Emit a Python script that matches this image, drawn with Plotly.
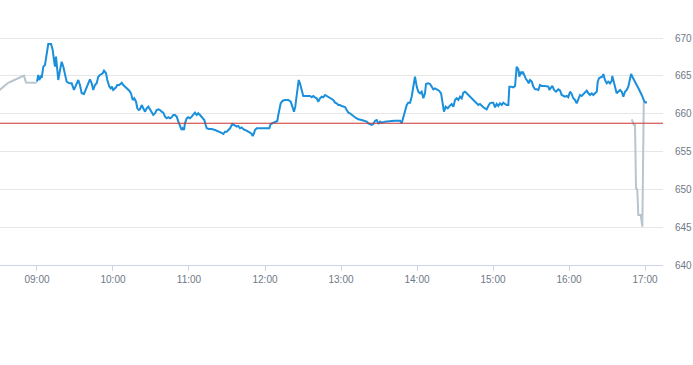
import pandas as pd
import plotly.graph_objects as go

# ---- data (minutes after 09:00, price) ----
pre_minutes = [-31, -26.6, -22.7, -18.7, -14.8, -10.3, -8.7, -0.2]
pre_values = [662.95, 663.6, 664.1, 664.4, 664.7, 665.05, 664.15, 664.1]

blue_minutes = [
    0, 1.0, 1.8, 2.9, 3.7, 5.0, 6.3, 7.7, 8.9, 11.1, 12.4, 13.4, 14.2, 15.0, 16.0, 16.8, 18.2, 19.5, 20.8, 22.1,
    23.4, 25.5, 27.4, 29.2, 30.6, 32.6, 33.9, 35.3, 37.1, 38.7, 40.5, 41.8, 43.2, 44.4, 45.8, 47.1, 48.4, 49.7, 51.9, 52.9,
    54.5, 55.5, 57.1, 58.2, 59.2, 60.2, 62.4, 63.4, 65.0, 66.9, 68.1, 69.5, 71.3, 72.9, 74.2, 75.6, 76.8, 78.2, 79.2, 80.3,
    81.3, 82.7, 83.9, 85.3, 86.6, 87.9, 89.2, 90.6, 91.8, 93.2, 94.5, 95.8, 97.1, 98.4, 99.7, 101.1, 102.4, 103.7, 105.0, 106.3,
    107.6, 108.9, 110.3, 111.6, 112.9, 114.2, 115.0, 116.1, 116.8, 118.2, 119.4, 120.8, 122.1, 123.4, 124.7, 126.1, 127.3, 128.7, 130.0, 131.3,
    132.1, 133.2, 134.0, 135.8, 137.9, 140.5, 143.1, 145.3, 147.1, 148.4, 149.8, 151.0, 152.4, 154.2, 155.8, 157.7, 158.9, 160.3, 161.6, 162.9,
    164.2, 165.5, 166.8, 168.2, 169.5, 170.3, 171.3, 172.1, 173.5, 176.1, 178.7, 181.3, 183.4, 184.5, 186.6, 187.9, 189.7, 190.5, 191.3, 192.4,
    194.0, 195.8, 198.4, 200.3, 201.6, 202.9, 203.9, 205.0, 205.8, 206.6, 207.6, 209.0, 210.2, 212.9, 215.5, 216.9, 218.1, 219.5, 220.8, 222.1,
    223.4, 224.8, 226.0, 227.4, 228.7, 230.0, 231.3, 232.7, 233.9, 235.3, 236.6, 237.9, 239.2, 240.6, 241.8, 243.2, 244.5, 245.8, 247.0, 248.4,
    249.7, 251.0, 252.4, 253.7, 256.3, 258.9, 260.3, 261.6, 262.9, 264.2, 265.5, 266.9, 268.2, 269.5, 270.8, 272.1, 274.7, 277.3, 280.0, 282.6,
    285.2, 286.6, 287.9, 289.2, 290.5, 291.9, 293.1, 294.5, 295.8, 297.1, 298.4, 299.8, 301.0, 302.4, 303.7, 305.0, 306.3, 307.1, 308.9, 310.3,
    311.6, 312.9, 314.2, 315.6, 317.4, 319.0, 320.0, 321.3, 322.7, 324.3, 326.1, 327.4, 328.7, 330.0, 331.3, 332.6, 334.0, 335.3, 336.6, 337.9,
    339.2, 340.5, 341.8, 343.2, 344.5, 345.8, 347.1, 348.4, 349.7, 351.1, 352.4, 353.7, 355.0, 356.3, 357.6, 359.0, 360.2, 361.6, 362.9, 364.2,
    365.5, 366.9, 368.1, 369.5, 370.8, 372.1, 372.9, 374.0, 376.0, 377.4, 378.7, 380.0, 380.8, 381.9, 382.7, 383.5, 384.5, 386.1, 387.1, 388.2,
    389.2, 390.6, 391.8, 393.2, 394.5, 395.8, 397.1, 398.4, 401.0, 402.4, 403.7, 404.5, 405.6, 406.8, 408.2, 409.7, 411.6, 412.9, 414.2, 415.5,
    416.8, 418.2, 419.4, 420.8, 422.1, 423.4, 424.7, 426.1, 427.3, 428.7, 430.0, 431.3, 432.6, 434.0, 435.3, 436.6, 437.9, 439.2, 440.5, 441.9,
    442.7, 443.7, 445.1, 446.3, 447.1, 448.4, 449.8, 451.0, 452.4, 453.7, 454.2, 454.9, 456.3, 457.6, 458.9, 460.3, 461.6, 462.9, 464.2, 465.6,
    466.8, 468.2, 469.0, 470.0, 472.2, 474.8, 477.4, 479.5, 481.4,
]
blue_values = [
    664.25, 665.13, 664.47, 664.9, 664.74, 666.23, 666.46, 668.21, 669.23, 669.23, 668.44, 667.12, 666.23, 667.55, 666.02, 664.47, 665.79, 666.89, 666.23, 665.36,
    664.25, 664.03, 664.03, 663.15, 663.81, 664.47, 663.81, 662.71, 662.62, 663.37, 664.03, 664.56, 664.03, 663.15, 663.81, 664.03, 664.9, 665.13, 665.36, 665.7,
    665.36, 664.47, 663.59, 663.37, 663.59, 663.15, 663.5, 663.81, 663.81, 664.11, 663.81, 663.59, 663.37, 663.06, 662.71, 661.83, 662.05, 661.6, 660.73, 660.5,
    660.6, 661.16, 660.73, 660.28, 660.73, 660.94, 660.6, 660.15, 659.84, 660.07, 660.5, 660.6, 660.5, 660.28, 660.15, 659.62, 659.4, 659.54, 659.4, 659.54,
    659.84, 659.84, 659.62, 658.96, 658.52, 657.86, 658.08, 657.86, 658.74, 659.4, 659.54, 659.4, 659.62, 659.84, 660.15, 659.84, 660.07, 659.84, 659.62, 659.4,
    659.18, 658.52, 658.08, 657.99, 657.99, 657.86, 657.72, 657.5, 657.33, 657.63, 657.63, 657.86, 658.08, 658.65, 658.48, 658.29, 658.39, 658.08, 658.2, 657.95,
    657.86, 657.76, 657.63, 657.5, 657.33, 657.06, 657.42, 657.86, 658.08, 658.08, 658.08, 658.08, 658.08, 658.65, 658.82, 658.96, 659.05, 659.84, 660.73, 661.39,
    661.73, 661.83, 661.83, 661.6, 660.94, 660.28, 660.94, 662.71, 663.81, 664.47, 664.03, 662.92, 662.35, 662.35, 662.35, 662.18, 662.35, 662.18, 662.05, 661.6,
    662.05, 662.26, 662.18, 662.49, 662.35, 662.26, 662.05, 661.92, 661.83, 661.47, 661.39, 661.16, 661.16, 661.03, 660.94, 660.9, 660.5, 660.15, 660.07, 659.84,
    659.71, 659.54, 659.4, 659.27, 659.18, 659.09, 658.96, 658.74, 658.65, 658.52, 658.65, 659.09, 659.18, 658.65, 658.96, 658.82, 658.96, 659.05, 659.05, 659.09,
    659.05, 659.09, 658.74, 659.62, 660.5, 661.16, 661.47, 661.47, 662.26, 663.37, 664.9, 663.59, 662.92, 662.71, 662.92, 662.05, 662.71, 663.94, 664.03, 663.94,
    663.59, 663.24, 663.37, 663.24, 663.06, 662.71, 661.39, 660.28, 660.94, 660.73, 661.1, 661.3, 660.94, 661.83, 662.05, 661.83, 662.26, 662.05, 662.79, 662.92,
    662.71, 662.49, 662.18, 662.05, 661.83, 661.6, 661.3, 661.16, 661.3, 661.03, 660.86, 660.73, 660.6, 661.03, 661.39, 661.47, 661.47, 660.86, 661.3, 661.03,
    661.39, 661.16, 661.47, 661.3, 661.16, 661.16, 663.59, 663.59, 663.5, 663.68, 666.23, 665.89, 664.9, 665.57, 665.26, 665.57, 665.13, 664.56, 664.38, 664.03,
    664.47, 664.25, 663.59, 663.24, 663.24, 663.15, 663.81, 663.68, 663.68, 663.68, 663.59, 663.15, 663.5, 663.68, 663.15, 662.92, 663.24, 663.1, 662.49, 662.35,
    662.26, 662.35, 662.18, 662.92, 662.62, 662.05, 661.83, 661.39, 661.83, 662.49, 662.35, 662.62, 662.79, 663.06, 662.71, 662.49, 662.71, 662.49, 662.71, 662.92,
    664.25, 664.7, 664.83, 664.9, 665.26, 664.47, 664.03, 664.25, 664.03, 664.38, 665.0, 664.47, 663.24, 662.71, 662.92, 663.15, 662.92, 662.26, 662.92, 663.15,
    663.59, 664.47, 665.26, 664.9, 664.25, 663.37, 662.49, 661.6, 661.47,
]

post_minutes = [469.5, 470.8, 471.3, 472.1, 472.9, 473.9, 474.7, 476.6, 477.9, 479.0, 481.4]
post_values = [659.27, 658.82, 658.52, 658.52, 650.15, 650.0, 646.61, 646.61, 645.07, 661.43, 661.47]

prev_close = 658.75

# ---- build ----
base = pd.Timestamp("2024-01-02 09:00:00")


def to_time(mins):
    return base + pd.to_timedelta(mins, unit="min")


fig = go.Figure()
fig.add_trace(go.Scatter(x=to_time(pre_minutes), y=pre_values, mode="lines",
                         line=dict(color="#b7c5cd", width=2), hoverinfo="skip", showlegend=False))
fig.add_trace(go.Scatter(x=to_time(post_minutes), y=post_values, mode="lines",
                         line=dict(color="#b7c5cd", width=2), hoverinfo="skip", showlegend=False))
fig.add_trace(go.Scatter(x=to_time(blue_minutes), y=blue_values, mode="lines",
                         line=dict(color="#1a8fdc", width=2), showlegend=False))

fig.add_shape(type="line", xref="paper", x0=0, x1=1, yref="y", y0=prev_close, y1=prev_close,
              line=dict(color="#cc3333", width=1))

font_col = "#6e7985"
fig.update_layout(
    width=693, height=365,
    margin=dict(l=0, r=30, t=0, b=100, pad=0, autoexpand=False),
    paper_bgcolor="white", plot_bgcolor="white",
    font=dict(family="Liberation Sans, Arial, sans-serif", size=10, color=font_col),
    xaxis=dict(
        type="date", automargin=False,
        range=[to_time(-29.2), to_time(494.2)],
        tickformat="%H:%M", dtick=3600000, tick0=to_time(0),
        showgrid=False, showline=True, linecolor="#ccd6eb", linewidth=1,
        ticks="outside", ticklen=5, tickcolor="#ccd6eb", tickwidth=1,
        zeroline=False, fixedrange=True,
    ),
    yaxis=dict(
        side="right", range=[640, 675.05], dtick=5, tick0=640, automargin=False,
        showgrid=True, gridcolor="#e6e6e6", gridwidth=1,
        showline=False, zeroline=False, ticks="", ticklabelstandoff=11,
        fixedrange=True,
    ),
)

fig.write_html("out.html", config={"displayModeBar": False},
               post_script="document.body.style.margin='0';document.body.style.padding='0';")
